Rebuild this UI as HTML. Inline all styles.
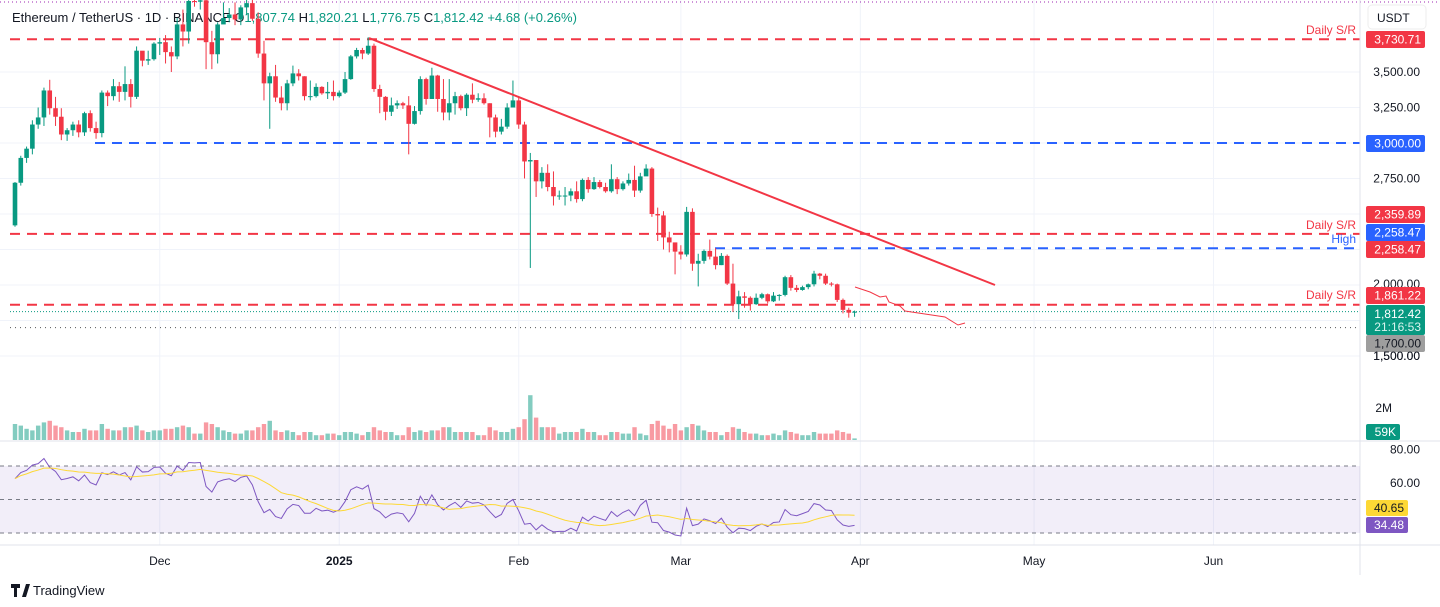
<!DOCTYPE html>
<html><head><meta charset="utf-8">
<style>
html,body{margin:0;padding:0;background:#fff;width:1440px;height:607px;overflow:hidden;font-family:"Liberation Sans",sans-serif;}
svg{position:absolute;left:0;top:0;}
text{font-family:"Liberation Sans",sans-serif;}
</style></head>
<body>
<svg id="chart" width="1440" height="607" viewBox="0 0 1440 607"></svg>
<script>
// ---- data ----
const dates = ['2024-11-06'];
const firstOpen = 2420;
const closes = [2720,2895,2960,3130,3180,3370,3245,3185,3060,3090,3130,3075,3210,3105,3070,3355,3330,3400,3360,3415,3325,3650,3580,3590,3700,
3710,3640,3610,3835,3785,4000,3995,4005,3710,3625,3835,3880,3905,3870,3955,3985,3875,3630,3420,3470,3320,3280,3420,3490,3470,3330,3330,3395,3350,3360,3330,
3355,3450,3610,3655,3630,3685,3380,3325,3220,3265,3280,3265,3135,3225,3450,3310,3475,3310,3215,3280,3330,3245,3340,3305,3315,3280,3180,3080,3115,3250,3300,
3130,2870,2880,2730,2790,2690,2625,2630,2630,2660,2605,2740,2675,2725,2690,2660,2745,2675,2715,2740,2665,2765,2820,2500,2490,2335,2300,2235,
2215,2515,2150,2170,2240,2200,2140,2205,2010,1865,1920,1910,1865,1910,1935,1885,1925,1930,2055,1980,1965,1985,2005,2080,2065,2010,2005,1895,1825,1805,1812];
const highs = [2725,2910,2975,3160,3250,3390,3445,3325,3245,3105,3150,3160,3220,3230,3150,3370,3370,3450,3430,3540,3450,3680,3640,3650,3710,
3740,3760,3680,3880,3940,4090,4020,4020,4010,3790,3850,3990,3950,3990,3970,4100,4040,3920,3720,3495,3550,3400,3445,3545,3520,3470,3440,3420,3400,3430,3440,
3370,3500,3620,3670,3670,3745,3700,3410,3330,3320,3300,3290,3330,3260,3470,3460,3530,3480,3450,3450,3360,3340,3350,3420,3350,3350,3280,3200,3170,3280,3440,
3330,3150,2930,2880,2830,2850,2800,2665,2690,2680,2730,2750,2760,2760,2740,2720,2850,2760,2730,2785,2840,2790,2850,2830,2545,2520,2375,2280,
2280,2550,2540,2220,2250,2320,2260,2225,2215,2150,1960,1950,1920,1940,1945,1940,1950,1935,2065,2070,2000,1995,2010,2100,2085,2080,2020,2010,1905,1840,1820];
const lows = [2410,2700,2860,2920,3100,3120,3200,3120,3020,3015,3050,3040,3050,3080,3030,3040,3260,3300,3290,3300,3250,3310,3540,3550,3580,
3620,3560,3500,3590,3680,3700,3960,3940,3520,3520,3560,3840,3850,3830,3830,3900,3860,3600,3300,3100,3290,3230,3230,3400,3440,3300,3300,3320,3340,3310,3300,
3320,3345,3445,3595,3590,3620,3360,3210,3160,3190,3240,3240,2920,3130,3200,3270,3310,3220,3160,3160,3200,3230,3190,3280,3290,3270,3040,3040,3060,3100,3270,
3100,2750,2120,2620,2680,2660,2560,2600,2560,2590,2580,2590,2650,2670,2680,2650,2650,2640,2665,2700,2620,2650,2780,2480,2310,2250,2230,2075,
2180,2200,2100,1990,2150,2180,2110,2140,2000,1810,1760,1840,1820,1860,1900,1870,1880,1890,1920,1960,1950,1960,1970,1990,2040,2000,1990,1880,1800,1770,1776];
const volumes = [1.0,0.9,0.7,0.6,0.9,1.1,1.2,0.9,0.8,0.6,0.5,0.5,0.7,0.6,0.6,1.0,0.7,0.6,0.6,0.8,0.8,0.9,0.6,0.5,0.6,
0.6,0.7,0.7,0.8,0.9,0.8,0.4,0.4,1.1,1.0,0.8,0.6,0.5,0.4,0.4,0.6,0.6,0.8,1.0,1.2,0.6,0.5,0.6,0.5,0.3,0.5,0.5,0.3,0.3,0.4,0.4,
0.3,0.5,0.5,0.4,0.3,0.5,0.8,0.6,0.5,0.5,0.3,0.3,0.8,0.5,0.6,0.5,0.6,0.6,0.8,0.8,0.5,0.5,0.5,0.5,0.3,0.3,0.8,0.6,0.5,0.5,0.7,
0.8,1.3,2.8,1.4,0.8,0.8,0.8,0.4,0.5,0.5,0.5,0.7,0.5,0.5,0.3,0.3,0.5,0.5,0.4,0.4,0.8,0.4,0.3,1.0,1.2,0.9,0.7,1.0,
0.6,0.8,1.0,0.9,0.6,0.5,0.5,0.3,0.5,0.8,0.7,0.5,0.4,0.4,0.3,0.3,0.4,0.3,0.6,0.5,0.4,0.3,0.3,0.5,0.4,0.4,0.4,0.6,0.5,0.4,0.1];
const priceTicks = [3500,3250,2750,1500];
const timeLabels = ['Dec','2025','Feb','Mar','Apr','May','Jun'];
const timeLabelDays = [25,56,87,115,146,176,207];
const rsiTicks = [80,60];

// ---- scales ----
const X0 = 15, DX = 5.79;
const xs = i => X0 + i*DX;
const py = p => 72 + (3500 - p)*0.142;
const vy = v => 440 - v*16;
const ry = r => 466 + (70 - r)*1.675;

const svg = document.getElementById('chart');
const NS = 'http://www.w3.org/2000/svg';
function mk(tag, attrs, parent){
  const e = document.createElementNS(NS, tag);
  for (const k in attrs) e.setAttribute(k, attrs[k]);
  (parent||svg).appendChild(e);
  return e;
}
const GREEN='#089981', RED='#f23645', BLUE='#2962ff';

const grid = mk('g',{});


[3500,3250,3000,2750,2500,2250,2000,1750,1500].forEach(p=>mk('line',{x1:0,x2:1360,y1:py(p),y2:py(p),stroke:'#f0f3fa'},grid));
timeLabelDays.forEach(d=>mk('line',{x1:xs(d),x2:xs(d),y1:0,y2:545,stroke:'#f0f3fa'},grid));

mk('line',{x1:0,x2:1440,y1:2,y2:2,stroke:'#9c27b0','stroke-dasharray':'1 3'});

const hdr = mk('text',{x:12,y:22,'font-size':13,fill:'#131722'});


hdr.innerHTML = 'Ethereum / TetherUS · 1D · BINANCE  <tspan fill="#131722">O</tspan><tspan fill="'+GREEN+'">1,807.74</tspan> H<tspan fill="'+GREEN+'">1,820.21</tspan> L<tspan fill="'+GREEN+'">1,776.75</tspan> C<tspan fill="'+GREEN+'">1,812.42</tspan> <tspan fill="'+GREEN+'">+4.68 (+0.26%)</tspan>';

function hline(y,x1,color,dash,name){
  const l = mk('line',{x1:x1,x2:1360,y1:y,y2:y,stroke:color,'stroke-width':2,'stroke-dasharray':dash});
  
  
}
hline(py(3730.71),10,RED,'10 7','resistance-3730');
hline(py(3000),95,BLUE,'10 7','level-3000');
hline(py(2359.89),10,RED,'10 7','resistance-2359');
hline(py(2258.47),715,BLUE,'10 7','high-2258');
hline(py(1861.22),10,RED,'10 7','support-1861');
mk('line',{x1:10,x2:1360,y1:py(1700),y2:py(1700),stroke:'#555','stroke-dasharray':'1 4'});
mk('line',{x1:10,x2:1360,y1:py(1812.42),y2:py(1812.42),stroke:GREEN,'stroke-dasharray':'1 2'});

function lbl(x,y,t,c,name,anchor){
  const e = mk('text',{x:x,y:y,'font-size':12,fill:c,'text-anchor':anchor||'end'});
  e.textContent = t;
  
  
}
lbl(1356,34,'Daily S/R',RED,'label-daily-sr-1');
lbl(1356,229,'Daily S/R',RED,'label-daily-sr-2');
lbl(1356,243,'High',BLUE,'label-high');
lbl(1356,299,'Daily S/R',RED,'label-daily-sr-3');

const vg = mk('g',{});


const cg = mk('g',{});


closes.forEach((c,i)=>{
  const o = i===0 ? firstOpen : closes[i-1];
  const col = c>=o ? GREEN : RED;
  const x = xs(i);
  const v = mk('rect',{x:x-2.2,y:vy(volumes[i]),width:4.4,height:440-vy(volumes[i]),fill:col,opacity:0.5},vg);
  
  
  const w = mk('line',{x1:x,x2:x,y1:py(highs[i]),y2:py(lows[i]),stroke:col,'stroke-width':1},cg);
  
  
  const top = py(Math.max(o,c)), bot = py(Math.min(o,c));
  const b = mk('rect',{x:x-2.3,y:top,width:4.6,height:Math.max(1,bot-top),fill:col},cg);
  
  
});

const tl = mk('line',{x1:369,y1:38,x2:995,y2:285,stroke:RED,'stroke-width':2});


const proj = mk('polyline',{points:'855,287 870,292 880,297 886,296 889,302 900,306 905,311 925,314 945,317 958,325 965,323',fill:'none',stroke:RED,'stroke-width':1});



mk('line',{x1:0,x2:1440,y1:441,y2:441,stroke:'#e0e3eb'});
mk('line',{x1:0,x2:1440,y1:545,y2:545,stroke:'#e0e3eb'});
mk('line',{x1:1360,x2:1360,y1:0,y2:575,stroke:'#e0e3eb'});

mk('rect',{x:0,y:ry(70),width:1360,height:ry(30)-ry(70),fill:'#7e57c2',opacity:0.1});
[70,50,30].forEach(r=>mk('line',{x1:0,x2:1360,y1:ry(r),y2:ry(r),stroke:'#787b86','stroke-dasharray':'4 4','stroke-width':1}));
const rsi=[]; let ag=60, al=50; const N=14;
closes.forEach((c,i)=>{
  const o = i===0 ? firstOpen : closes[i-1];
  const ch=c-o, g=Math.max(ch,0), l=Math.max(-ch,0);
  ag=(ag*(N-1)+g)/N; al=(al*(N-1)+l)/N;
  rsi.push(100-100/(1+ag/al));
});
const rsiMa = rsi.map((v,i)=>{const s=rsi.slice(Math.max(0,i-13),i+1);return s.reduce((a,b)=>a+b,0)/s.length;});
const rl = mk('polyline',{points:rsi.map((v,i)=>xs(i)+','+ry(v)).join(' '),fill:'none',stroke:'#7e57c2','stroke-width':1});


const rm = mk('polyline',{points:rsiMa.map((v,i)=>xs(i)+','+ry(v)).join(' '),fill:'none',stroke:'#fdd835','stroke-width':1});



const ax = mk('g',{});


priceTicks.forEach(p=>{
  const t = mk('text',{x:1420,y:py(p)+4,'font-size':12,fill:'#131722','text-anchor':'end'},ax);
  t.textContent = p.toLocaleString('en-US',{minimumFractionDigits:2});
  
  
});
const t2 = mk('text',{x:1420,y:288,'font-size':12,fill:'#131722','text-anchor':'end'},ax); t2.textContent='2,000.00';
rsiTicks.forEach(r=>{
  const t = mk('text',{x:1420,y:ry(r)+4,'font-size':12,fill:'#131722','text-anchor':'end'},ax);
  t.textContent = r.toFixed(2);
  
  
});
const vt = mk('text',{x:1392,y:412,'font-size':12,fill:'#131722','text-anchor':'end'},ax); vt.textContent='2M';
function box(y,h,bg,fg,t,name,x,w){
  const g = mk('g',{},ax);
  
  
  mk('rect',{x:x||1366,y:y,width:w||59,height:h,fill:bg,rx:2},g);
  const e = mk('text',{x:(x||1366)+(w||59)-4,y:y+h/2+4,'font-size':12,fill:fg,'text-anchor':'end'},g);
  e.textContent=t;
}
box(31,17,RED,'#fff','3,730.71','label-3730');
box(135,17,BLUE,'#fff','3,000.00','label-3000');
box(206,17,RED,'#fff','2,359.89','label-2359');
box(224,17,BLUE,'#fff','2,258.47','label-2258-blue');
box(241,17,RED,'#fff','2,258.47','label-2258-red');
box(287,17,RED,'#fff','1,861.22','label-1861');
box(305,30,GREEN,'#fff','','label-current');
lbl(1421,318,'1,812.42','#fff','current-price');
lbl(1421,331,'21:16:53','#d8f3ee','countdown');
box(335,17,'#9e9e9e','#131722','1,700.00','label-1700');
const t15 = mk('text',{x:1420,y:360,'font-size':12,fill:'#131722','text-anchor':'end'},ax); t15.textContent='1,500.00';
box(424,16,GREEN,'#fff','59K','label-volume',1366,34);
box(500,16,'#fdd835','#131722','40.65','label-rsi-ma',1366,42);
box(517,16,'#7e57c2','#fff','34.48','label-rsi',1366,42);
const ub = mk('g',{});  
mk('rect',{x:1368,y:5,width:58,height:24,rx:4,fill:'#fff',stroke:'#eee'},ub);
const ut = mk('text',{x:1377,y:22,'font-size':12,fill:'#131722'},ub); ut.textContent='USDT';

const tax = mk('g',{});  
timeLabels.forEach((t,i)=>{
  const e = mk('text',{x:xs(timeLabelDays[i]),y:565,'font-size':12,fill:'#131722','text-anchor':'middle','font-weight':t==='2025'?'bold':'normal'},tax);
  e.textContent=t;
  
  
});
const lg = mk('g',{});  
mk('path',{d:'M11 584h9v4h-3v9h-3v-9h-3z M22 597l4-13h4l-4 13z',fill:'#131722'},lg);
const lt = mk('text',{x:33,y:595,'font-size':13,fill:'#131722'},lg); lt.textContent='TradingView';
</script>
</body></html>
